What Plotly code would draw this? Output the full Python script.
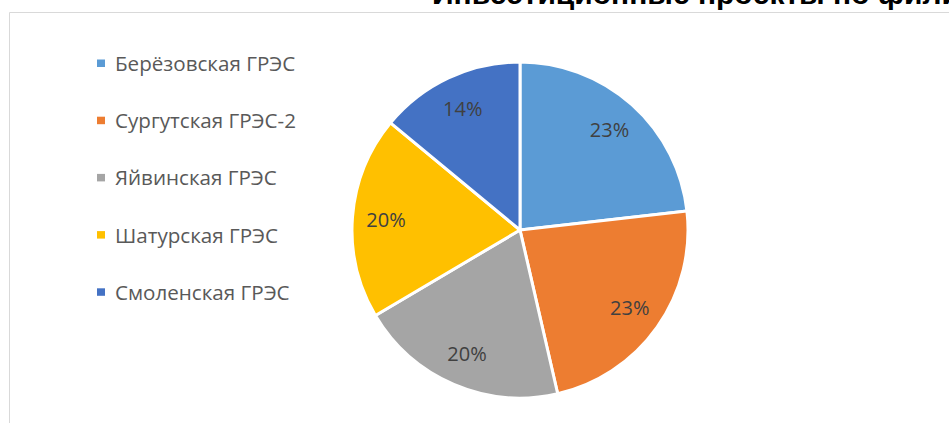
import plotly.graph_objects as go

# ---- data ----
categories = ["Берёзовская ГРЭС", "Сургутская ГРЭС-2", "Яйвинская ГРЭС", "Шатурская ГРЭС", "Смоленская ГРЭС"]
shares = [23.2, 23.2, 20.1, 19.5, 14.0]
colors = ["#5B9BD5", "#ED7D31", "#A5A5A5", "#FFC000", "#4472C4"]
title_text = "Инвестиционные проекты по филиалам"

W, H = 949, 423
pie_domain = dict(x=[352 / W, 688 / W], y=[25 / H, 361 / H])

fig = go.Figure()
# filled slices
fig.add_trace(go.Pie(
    labels=categories,
    values=shares,
    marker=dict(colors=colors, line=dict(color="white", width=3)),
    sort=False,
    direction="clockwise",
    rotation=0,
    textinfo="none",
    domain=pie_domain,
    showlegend=False,
    hoverinfo="label+percent",
))
# transparent ring carrying the percentage labels (places them toward the rim)
fig.add_trace(go.Pie(
    labels=categories,
    values=shares,
    hole=0.6,
    marker=dict(colors=["rgba(0,0,0,0)"] * len(categories), line=dict(width=0)),
    sort=False,
    direction="clockwise",
    rotation=0,
    textinfo="percent",
    texttemplate="%{percent:.0%}",
    textposition="inside",
    insidetextorientation="horizontal",
    textfont=dict(family="Open Sans, Noto Sans, sans-serif", size=20, color="#404040"),
    domain=pie_domain,
    showlegend=False,
    hoverinfo="skip",
))

annotations = [dict(
    text="<b>" + title_text + "</b>",
    xref="paper", yref="paper",
    x=430 / W, y=1 + 6 / H,
    xanchor="left", yanchor="middle",
    showarrow=False,
    font=dict(family="Liberation Sans, Arial, sans-serif", size=30, color="#000000"),
)]
shapes = [
    dict(type="line", xref="paper", yref="paper", x0=9.5 / W, x1=1, y0=1 - 12.5 / H, y1=1 - 12.5 / H,
         line=dict(color="#D9D9D9", width=1)),
    dict(type="line", xref="paper", yref="paper", x0=9.5 / W, x1=9.5 / W, y0=0, y1=1 - 12.5 / H,
         line=dict(color="#D9D9D9", width=1)),
]

# manual legend (vertically spaced like the original)
legend_top = 63
legend_step = 57.2
for i, (name, col) in enumerate(zip(categories, colors)):
    yc = legend_top + i * legend_step
    shapes.append(dict(type="rect", xref="paper", yref="paper",
                       x0=97 / W, x1=105 / W, y0=1 - (yc + 4) / H, y1=1 - (yc - 3.5) / H,
                       fillcolor=col, line=dict(width=0)))
    annotations.append(dict(
        text=name, xref="paper", yref="paper",
        x=113 / W, y=1 - yc / H, xanchor="left", yanchor="middle",
        showarrow=False,
        font=dict(family="Open Sans, Noto Sans, sans-serif", size=20.6, color="#595959"),
    ))

fig.update_layout(
    width=W, height=H,
    margin=dict(l=0, r=0, t=0, b=0),
    paper_bgcolor="white",
    plot_bgcolor="white",
    annotations=annotations,
    shapes=shapes,
)

fig.write_html(
    "out.html",
    config={"displayModeBar": False},
    post_script="document.body.style.margin='0';document.body.style.overflow='hidden';",
)
